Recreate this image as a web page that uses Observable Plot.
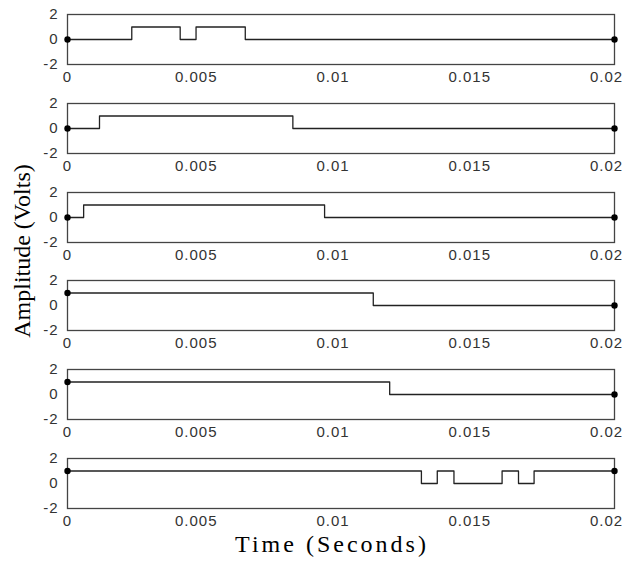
<!DOCTYPE html>
<html>
<head>
<meta charset="utf-8">
<script src="https://cdn.jsdelivr.net/npm/d3@7"></script>
<script src="https://cdn.jsdelivr.net/npm/@observablehq/plot@0.6"></script>
<style>
  html, body { margin: 0; padding: 0; background: #fff; }
  #wrap { position: relative; width: 623px; height: 562px; overflow: hidden; background: #fff; }
  .panel { position: absolute; left: 0; }
  #ytitle { position: absolute; left: 22px; top: 251px; transform: translate(-50%, -50%) rotate(-90deg);
    font-family: "Liberation Serif", "Times New Roman", serif; font-size: 24px; color: #000; white-space: nowrap; }
  #xtitle { position: absolute; left: 332px; top: 531px; transform: translateX(-50%);
    font-family: "Liberation Serif", "Times New Roman", serif; font-size: 24px; letter-spacing: 3px; color: #000; white-space: nowrap; }
</style>
</head>
<body>
<div id="wrap">
  <div id="ytitle">Amplitude (Volts)</div>
  <div id="xtitle">Time (Seconds)</div>
</div>
<script>
// Transition times (seconds) and levels (volts) for each of the six traces
const times1 = [0, 0.00235, 0.00412, 0.0047, 0.0065, 0.02];
const levels1 = [0, 1, 0, 1, 0, 0];
const times2 = [0, 0.00117, 0.00824, 0.02];
const levels2 = [0, 1, 0, 0];
const times3 = [0, 0.00059, 0.0094, 0.02];
const levels3 = [0, 1, 0, 0];
const times4 = [0, 0.01118, 0.02];
const levels4 = [1, 0, 0];
const times5 = [0, 0.01178, 0.02];
const levels5 = [1, 0, 0];
const times6 = [0, 0.01294, 0.01352, 0.01413, 0.01589, 0.01649, 0.01706, 0.02];
const levels6 = [1, 0, 1, 0, 1, 0, 1, 1];

const xTicks = [0, 0.005, 0.01, 0.015, 0.02];
const xTickLabels = ["0", "0.005", "0.01", "0.015", "0.02"];
const yTicks = [-2, 0, 2];
const yTickLabels = ["-2", "0", "2"];

const series = [
  [times1, levels1], [times2, levels2], [times3, levels3],
  [times4, levels4], [times5, levels5], [times6, levels6]
];

const wrap = document.getElementById("wrap");
const spacing = 88.8;

series.forEach(([ts, vs], i) => {
  const data = ts.map((t, k) => ({t, v: vs[k]}));
  const ends = [data[0], data[data.length - 1]];
  const fmtX = d => xTickLabels[xTicks.indexOf(d)];
  const fmtY = d => yTickLabels[yTicks.indexOf(d)];
  const chart = Plot.plot({
    width: 623,
    height: 90,
    marginTop: 14,
    marginBottom: 26,
    marginLeft: 67,
    marginRight: 9,
    style: {
      fontFamily: "'Liberation Sans', Arial, sans-serif",
      fontSize: "15px",
      letterSpacing: "1px",
      color: "#333",
      background: "transparent",
      overflow: "visible"
    },
    x: {domain: [0, 0.02], label: null},
    y: {domain: [-2, 2], label: null},
    marks: [
      Plot.frame({stroke: "#444", strokeWidth: 1.3}),
      Plot.axisY({ticks: yTicks, tickFormat: fmtY, tickSize: 0, tickPadding: 9, label: null}),
      Plot.axisX({ticks: xTicks.slice(0, 1), tickFormat: fmtX, tickSize: 0, tickPadding: 7, label: null}),
      Plot.axisX({ticks: xTicks.slice(1), tickFormat: fmtX, tickSize: 0, tickPadding: 7, dx: -8, label: null}),
      Plot.line(data, {x: "t", y: "v", curve: "step-after", stroke: "#222", strokeWidth: 1.3}),
      Plot.dot(ends, {x: "t", y: "v", r: 3.2, fill: "#000", stroke: null})
    ]
  });
  const div = document.createElement("div");
  div.className = "panel";
  div.style.top = Math.round(i * spacing) + "px";
  div.appendChild(chart);
  wrap.insertBefore(div, wrap.firstChild);
});
</script>
</body>
</html>
